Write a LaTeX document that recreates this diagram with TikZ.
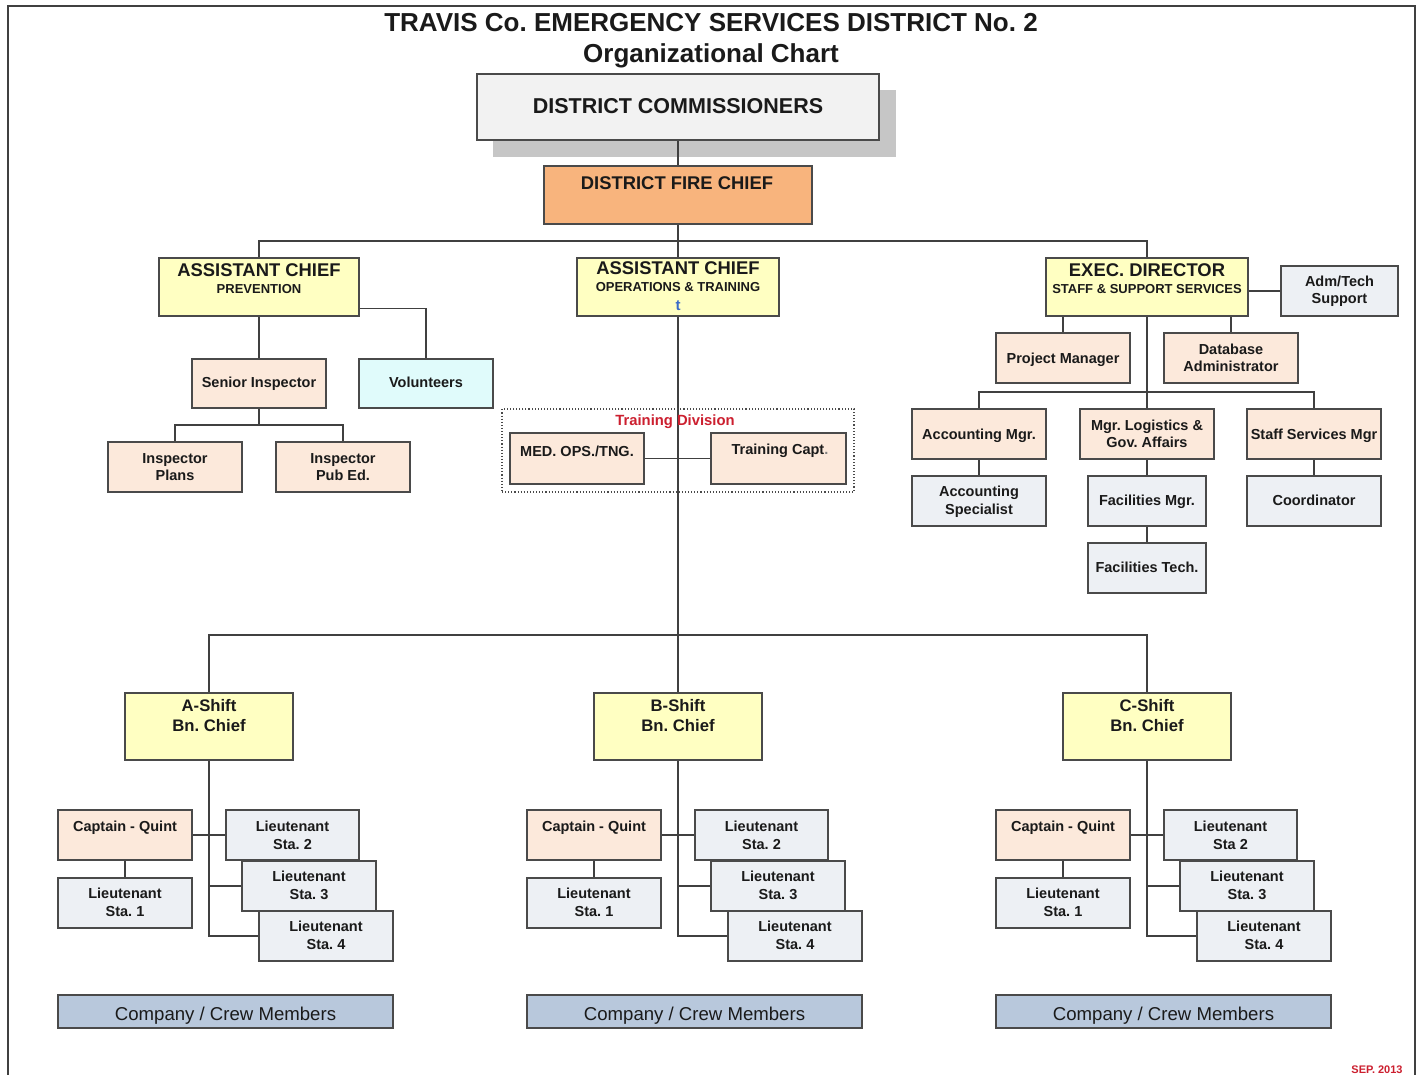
\documentclass[tikz,border=0pt]{standalone}
\usepackage{fontspec}
\setmainfont{Liberation Sans}
\usetikzlibrary{fit,calc}
\pgfdeclarelayer{shadowl}
\pgfdeclarelayer{linesl}
\pgfsetlayers{shadowl,linesl,main}
\definecolor{ylw}{HTML}{FFFFC2}
\definecolor{peach}{HTML}{FCE9DB}
\definecolor{bgrey}{HTML}{EDF0F4}
\definecolor{cyanb}{HTML}{E0FBFB}
\definecolor{crew}{HTML}{B8C8DC}
\definecolor{orng}{HTML}{F8B47D}
\definecolor{cgray}{HTML}{F2F2F2}
\definecolor{shad}{HTML}{C6C6C6}
\definecolor{bordc}{HTML}{4A4A4A}
\definecolor{linec}{HTML}{404040}
\definecolor{txtc}{HTML}{1A1A1A}
\definecolor{redt}{HTML}{CC1F2F}
\definecolor{bluet}{HTML}{3A6BC8}
\newcommand\fsz[1]{\fontsize{#1}{#1}\selectfont}
\newcommand\bx[6]{\node[box,#2,fit={(#3,#4) (#5,#6)}] (#1) {};}
\newcommand\tx[5]{\node[txt,font=#2] (#1) at (#3,#4) {#5};}
\tikzset{
  box/.style={draw=bordc, line width=1.4pt, inner sep=0pt, rectangle},
  txt/.style={inner sep=0pt, anchor=base, text=txtc},
  conn/.style={draw=linec, line width=1.6pt},
}
\frenchspacing
\begin{document}
\frenchspacing
\begin{tikzpicture}[x=1pt,y=-1pt]
\useasboundingbox (0,0) rectangle (1422,1075);
\begin{pgfonlayer}{shadowl}
\fill[white] (0,0) rectangle (1422,1075);
\fill[shad] (493,90) rectangle (896,157);
\end{pgfonlayer}
% frame
\draw[line width=2pt, color=linec] (7.5,1080) -- (7.5,6) -- (1415,6) -- (1415,1080);
% titles
\tx{t1}{\fsz{26}\bfseries}{711}{32}{TRAVIS Co. EMERGENCY SERVICES DISTRICT No. 2}
\tx{t2}{\fsz{26}\bfseries}{711}{63}{Organizational Chart}
% commissioners
\bx{dc}{fill=cgray}{477}{74}{879}{140}
\tx{dct}{\fsz{21.5}\bfseries}{678}{114}{DISTRICT COMMISSIONERS}
\bx{dfc}{fill=orng}{544}{166}{812}{224}
\tx{dfct}{\fsz{18.4}\bfseries}{677}{190}{DISTRICT FIRE CHIEF}
% assistant chiefs
\bx{acp}{fill=ylw}{159}{258}{359}{316}
\tx{acpt1}{\fsz{18.4}\bfseries}{259}{277}{ASSISTANT CHIEF}
\tx{acpt2}{\fsz{13}\bfseries}{259}{294}{PREVENTION}
\bx{aco}{fill=ylw}{577}{258}{779}{316}
\tx{acot1}{\fsz{18.4}\bfseries}{678}{275}{ASSISTANT CHIEF}
\tx{acot2}{\fsz{13}\bfseries}{678}{292}{OPERATIONS \& TRAINING}
\node[txt,font=\fsz{15}\bfseries,text=bluet] (acot3) at (678,310.5) {t};
\bx{exe}{fill=ylw}{1046}{258}{1248}{316}
\tx{exet1}{\fsz{18.4}\bfseries}{1147}{277}{EXEC. DIRECTOR}
\tx{exet2}{\fsz{13}\bfseries}{1147}{294}{STAFF \& SUPPORT SERVICES}
\bx{adm}{fill=bgrey}{1281}{266}{1398}{316}
\tx{admt1}{\fsz{14.5}\bfseries}{1339.5}{287}{Adm/Tech}
\tx{admt2}{\fsz{14.5}\bfseries}{1339.5}{304}{Support}
% prevention
\bx{si}{fill=peach}{192}{359}{326}{408}
\tx{sit}{\fsz{14.5}\bfseries}{259}{388}{Senior Inspector}
\bx{vol}{fill=cyanb}{359}{359}{493}{408}
\tx{volt}{\fsz{14.5}\bfseries}{426}{388}{Volunteers}
\bx{ipl}{fill=peach}{108}{442}{242}{492}
\tx{iplt1}{\fsz{14.5}\bfseries}{175}{463.3}{Inspector}
\tx{iplt2}{\fsz{14.5}\bfseries}{175}{480}{Plans}
\bx{ipe}{fill=peach}{276}{442}{410}{492}
\tx{ipet1}{\fsz{14.5}\bfseries}{343}{463.3}{Inspector}
\tx{ipet2}{\fsz{14.5}\bfseries}{343}{480}{Pub Ed.}
% training division
\node[draw=bordc, dotted, line width=1.1pt, inner sep=0pt, fit={(502,409) (854,492)}] (td) {};
\node[txt,font=\fsz{14.8}\bfseries,text=redt] (tdt) at (675,425.5) {Training Division};
\bx{med}{fill=peach}{510}{433}{644}{484}
\tx{medt}{\fsz{14.5}\bfseries}{577}{456.7}{MED. OPS./TNG.}
\bx{cap}{fill=peach}{711}{433}{846}{484}
\tx{capt}{\fsz{14.5}\bfseries}{780}{454}{Training Capt\textcolor{gray}{.}}
% staff & support
\bx{pm}{fill=peach}{996}{333}{1130}{383}
\tx{pmt}{\fsz{14.5}\bfseries}{1063}{363}{Project Manager}
\bx{dba}{fill=peach}{1164}{333}{1298}{383}
\tx{dbat1}{\fsz{14.5}\bfseries}{1231}{355}{Database}
\tx{dbat2}{\fsz{14.5}\bfseries}{1231}{371.7}{Administrator}
\bx{am}{fill=peach}{912}{409}{1046}{459}
\tx{amt}{\fsz{14.5}\bfseries}{979}{439}{Accounting Mgr.}
\bx{ml}{fill=peach}{1080}{409}{1214}{459}
\tx{mlt1}{\fsz{14.5}\bfseries}{1147}{430}{Mgr. Logistics \&}
\tx{mlt2}{\fsz{14.5}\bfseries}{1147}{447.7}{Gov. Affairs}
\bx{ssm}{fill=peach}{1247}{409}{1381}{459}
\tx{ssmt}{\fsz{14.5}\bfseries}{1314}{439}{Staff Services Mgr}
\bx{as}{fill=bgrey}{912}{476}{1046}{526}
\tx{ast1}{\fsz{14.5}\bfseries}{979}{496.7}{Accounting}
\tx{ast2}{\fsz{14.5}\bfseries}{979}{514.3}{Specialist}
\bx{fm}{fill=bgrey}{1088}{476}{1206}{526}
\tx{fmt}{\fsz{14.5}\bfseries}{1147}{505.7}{Facilities Mgr.}
\bx{co}{fill=bgrey}{1247}{476}{1381}{526}
\tx{cot}{\fsz{14.5}\bfseries}{1314}{505.7}{Coordinator}
\bx{ft}{fill=bgrey}{1088}{543}{1206}{593}
\tx{ftt}{\fsz{14.5}\bfseries}{1147}{572.3}{Facilities Tech.}
% shifts
\foreach \s/\dx/\sl/\stwo in {a/0/A/{Sta. 2},b/469/B/{Sta. 2},c/938/C/{Sta 2}} {
  \bx{s\s}{fill=ylw}{125+\dx}{693}{293+\dx}{760}
  \tx{s\s t1}{\fsz{16.7}\bfseries}{209+\dx}{711.7}{\sl-Shift}
  \tx{s\s t2}{\fsz{16.7}\bfseries}{209+\dx}{731.7}{Bn. Chief}
  \bx{cq\s}{fill=peach}{58+\dx}{810}{192+\dx}{860}
  \tx{cq\s t}{\fsz{14.5}\bfseries}{125+\dx}{831.7}{Captain - Quint}
  \bx{l1\s}{fill=bgrey}{58+\dx}{878}{192+\dx}{928}
  \tx{l1\s t1}{\fsz{14.5}\bfseries}{125+\dx}{898.3}{Lieutenant}
  \tx{l1\s t2}{\fsz{14.5}\bfseries}{125+\dx}{916}{Sta. 1}
  \bx{l2\s}{fill=bgrey}{226+\dx}{810}{359+\dx}{860}
  \tx{l2\s t1}{\fsz{14.5}\bfseries}{292.5+\dx}{831.7}{Lieutenant}
  \tx{l2\s t2}{\fsz{14.5}\bfseries}{292.5+\dx}{849.3}{\stwo}
  \bx{l3\s}{fill=bgrey}{242+\dx}{861}{376+\dx}{911}
  \tx{l3\s t1}{\fsz{14.5}\bfseries}{309+\dx}{881.7}{Lieutenant}
  \tx{l3\s t2}{\fsz{14.5}\bfseries}{309+\dx}{899.3}{Sta. 3}
  \bx{l4\s}{fill=bgrey}{259+\dx}{911}{393+\dx}{961}
  \tx{l4\s t1}{\fsz{14.5}\bfseries}{326+\dx}{931.7}{Lieutenant}
  \tx{l4\s t2}{\fsz{14.5}\bfseries}{326+\dx}{949.3}{Sta. 4}
  \bx{cm\s}{fill=crew}{58+\dx}{995}{393+\dx}{1028}
  \tx{cm\s t}{\fsz{18.6}}{225.5+\dx}{1020.5}{Company / Crew Members}
  \begin{pgfonlayer}{linesl}
    \draw[conn] (s\s.south) -- (s\s.south |- l4\s.west) -- (l4\s.west);
    \draw[conn] (l3\s.west) -- (l3\s.west -| s\s.south);
    \draw[conn] (cq\s) -- (l2\s);
    \draw[conn] (cq\s) -- (l1\s);
  \end{pgfonlayer}
}
\node[txt,font=\fsz{11}\bfseries,text=redt] (sep) at (1377,1073) {SEP. 2013};
% connectors
\begin{pgfonlayer}{linesl}
\coordinate (hb) at (678,241);
\coordinate (ib) at (259,425);
\coordinate (eb) at (1147,392);
\coordinate (sbar) at (678,635);
\draw[conn] (dc.south) -- (dc.south |- dfc.north);
\draw[conn] (dfc.south) -- (aco.north);
\draw[conn] (acp.north) |- (hb) -| (exe.north);
\draw[conn] (aco.south) -- (sb.north);
\draw[conn] ([yshift=8pt]acp.south east) -| (vol.north);
\draw[conn] (acp.south) -- (si.north);
\draw[conn] (si.south) -- (ib);
\draw[conn] (ipl.north) |- (ib) -| (ipe.north);
\draw[conn] (med) -- (cap);
\draw[conn] (exe.east |- adm.west) -- (adm.west);
\draw[conn] (pm.north) -- (pm.north |- exe.south);
\draw[conn] (dba.north) -- (dba.north |- exe.south);
\draw[conn] (exe.south) -- (eb);
\draw[conn] (am.north) |- (eb) -| (ssm.north);
\draw[conn] (eb) -- (ml.north);
\draw[conn] (am) -- (as);
\draw[conn] (ml) -- (fm);
\draw[conn] (ssm) -- (co);
\draw[conn] (fm) -- (ft);
\draw[conn] (sa.north) |- (sbar) -| (sc.north);
\end{pgfonlayer}
\end{tikzpicture}
\end{document}
